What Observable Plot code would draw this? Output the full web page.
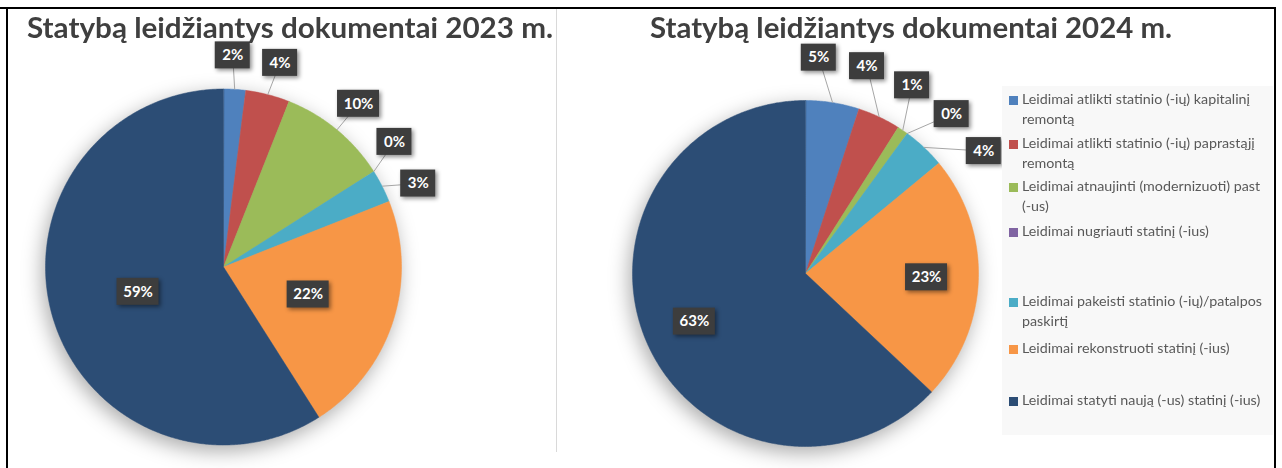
<!DOCTYPE html>
<html><head><meta charset="utf-8">
<script src="https://cdn.jsdelivr.net/npm/d3@7"></script>
<script src="https://cdn.jsdelivr.net/npm/@observablehq/plot@0.6"></script>
<style>
html,body{margin:0;padding:0;background:#fff;}
#root{position:relative;width:1282px;height:468px;overflow:hidden;font-family:Lato, sans-serif;}
</style></head>
<body><div id="root"></div>
<script>
// ---- data ----
const legendLines = [
  ["Leidimai atlikti statinio (-ių) kapitalinį", "remontą"],
  ["Leidimai atlikti statinio (-ių) paprastąjį", "remontą"],
  ["Leidimai atnaujinti (modernizuoti) past", "(-us)"],
  ["Leidimai nugriauti statinį (-ius)"],
  ["Leidimai pakeisti statinio (-ių)/patalpos", "paskirtį"],
  ["Leidimai rekonstruoti statinį (-ius)"],
  ["Leidimai statyti naują (-us) statinį (-ius)"]
];
const categories = legendLines.map(l => l.join(" "));
const colors = ["#4F81BD", "#C0504D", "#9BBB59", "#8064A2", "#4BACC6", "#F79646", "#2C4D75"];
const values2023 = [2, 4, 10, 0, 3, 22, 59];
const values2024 = [5, 4, 1, 0, 4, 23, 63];
const titles = ["Statybą leidžiantys dokumentai 2023 m.", "Statybą leidžiantys dokumentai 2024 m."];

// ---- layout ----
const H = 468;
const root = document.getElementById("root");
const ctx = document.createElement("canvas").getContext("2d");
function textW(str, font) { ctx.font = font; return ctx.measureText(str).width; }
function addDiv(parent, css, text) {
  const d = document.createElement("div");
  d.style.cssText = css;
  if (text != null) d.textContent = text;
  parent.appendChild(d);
  return d;
}

function pie(values, opt) {
  const {cx, cy, r, left, width, insideR, outsideR, minSep} = opt;
  const total = d3.sum(values);
  let acc = 0;
  const slices = values.map((v, i) => {
    const a0 = acc / total * 2 * Math.PI; acc += v;
    const a1 = acc / total * 2 * Math.PI;
    return {i, cat: categories[i], v, a0, a1, mid: (a0 + a1) / 2};
  });
  const pts = [];
  for (const s of slices) {
    if (s.v <= 0) continue;
    pts.push({cat: s.cat, x: 0, y: 0});
    const n = Math.max(2, Math.ceil((s.a1 - s.a0) / (Math.PI / 360)));
    for (let k = 0; k <= n; k++) {
      const a = s.a0 + (s.a1 - s.a0) * k / n;
      pts.push({cat: s.cat, x: Math.sin(a), y: Math.cos(a)});
    }
  }
  const pct = s => Math.round(s.v / total * 100) + "%";
  const outside = slices.filter(s => s.v / total < 0.15);
  const inside = slices.filter(s => s.v / total >= 0.15);
  const sep = minSep * Math.PI / 180;
  const groups = outside.map(s => ({members: [s]}));
  const place = g => { g.start = d3.mean(g.members, s => s.mid) - sep * (g.members.length - 1) / 2; };
  groups.forEach(place);
  let merged = true;
  while (merged) {
    merged = false;
    for (let k = 0; k < groups.length - 1; k++) {
      const g = groups[k], h = groups[k + 1];
      if (h.start - (g.start + sep * (g.members.length - 1)) < sep) {
        g.members = g.members.concat(h.members); place(g); groups.splice(k + 1, 1); merged = true; break;
      }
    }
  }
  const labels = [];
  groups.forEach(g => g.members.forEach((s, j) => {
    const a = g.start + sep * j;
    labels.push({text: pct(s), x: outsideR * Math.sin(a), y: outsideR * Math.cos(a), ax: Math.sin(s.mid), ay: Math.cos(s.mid), out: true});
  }));
  inside.forEach(s => labels.push({text: pct(s), x: insideR * Math.sin(s.mid), y: insideR * Math.cos(s.mid), out: false}));
  labels.forEach(d => { d.hw = (d.text.length <= 2 ? 17.5 : 21) / r; d.hh = 13.5 / r; });

  const lx = cx - left;
  const plot = Plot.plot({
    width, height: H, margin: 0,
    style: {background: "transparent", fontFamily: "Lato", overflow: "visible"},
    x: {domain: [-lx / r, (width - lx) / r], axis: null},
    y: {domain: [-(H - cy) / r, cy / r], axis: null},
    color: {domain: categories, range: colors},
    marks: [
      Plot.line(pts, {x: "x", y: "y", z: "cat", fill: "cat", stroke: "cat", strokeWidth: 0.5, curve: "linear-closed"}),
      Plot.link(labels.filter(d => d.out), {x1: "ax", y1: "ay", x2: "x", y2: "y", stroke: "#a6a6a6", strokeWidth: 1}),
      Plot.rect(labels, {x1: d => d.x - d.hw, x2: d => d.x + d.hw, y1: d => d.y - d.hh, y2: d => d.y + d.hh, fill: "#3d3d3d"}),
      Plot.text(labels, {x: "x", y: "y", text: "text", fill: "white", fontSize: 15, fontWeight: "bold", fontFamily: "Lato"})
    ]
  });
  const g1 = plot.querySelector('g[aria-label="line"]');
  if (g1) g1.style.filter = "drop-shadow(-3px 6px 10px rgba(0,0,0,0.33))";
  const g2 = plot.querySelector('g[aria-label="rect"]');
  if (g2) g2.style.filter = "drop-shadow(2px 2px 2px rgba(0,0,0,0.45))";
  const wrap = addDiv(root, `position:absolute;left:${left}px;top:0;width:${width}px;height:${H}px;`);
  wrap.appendChild(plot);
}

// divider
addDiv(root, "position:absolute;left:556px;top:9px;width:1px;height:443px;background:#d9d9d9;");

pie(values2023, {cx: 223, cy: 266.5, r: 178, left: 8, width: 548, insideR: 0.5, outsideR: 1.19, minSep: 13});
pie(values2024, {cx: 805, cy: 273, r: 173, left: 558, width: 442, insideR: 0.7, outsideR: 1.25, minSep: 13});

// titles
const titleFS = 28;
const titleFont = `bold ${titleFS}px Lato`;
const titleSpans = [[27, 553], [650, 1172]];
titles.forEach((t, i) => {
  const [x0, x1] = titleSpans[i];
  const w = textW(t, titleFont);
  addDiv(root, `position:absolute;left:${x0}px;top:${39 - 0.987 * titleFS}px;font:${titleFont};line-height:1.2;color:#3f3f3f;white-space:nowrap;transform-origin:0 0;transform:scaleX(${(x1 - x0) / w});`, t);
});

// legend
const legendBaselines = [105, 149, 192, 237, 307, 354, 406];
const legFS = 13;
const legendFont = `${legFS}px Lato`;
const lf = 228 / textW(legendLines[0][0], legendFont);
const leg = addDiv(root, "position:absolute;left:1002px;top:86px;width:271px;height:349px;background:#f8f8f8;overflow:hidden;");
legendLines.forEach((lines, i) => {
  const b = legendBaselines[i] - 86;
  addDiv(leg, `position:absolute;left:7px;top:${b - 9}px;width:9px;height:9px;background:${colors[i]};`);
  lines.forEach((ln, j) => {
    addDiv(leg, `position:absolute;left:20px;top:${b + 20 * j - 0.987 * legFS}px;font:${legendFont};line-height:1.2;color:#595959;white-space:nowrap;transform-origin:0 0;transform:scaleX(${lf});`, ln);
  });
});

// frame
addDiv(root, "position:absolute;left:6px;top:7px;width:1266px;height:470px;border-top:2px solid #000;border-left:2px solid #000;border-right:2px solid #000;");
addDiv(root, "position:absolute;left:0;top:7px;width:8px;height:2px;background:#000;");
</script>
</body></html>
